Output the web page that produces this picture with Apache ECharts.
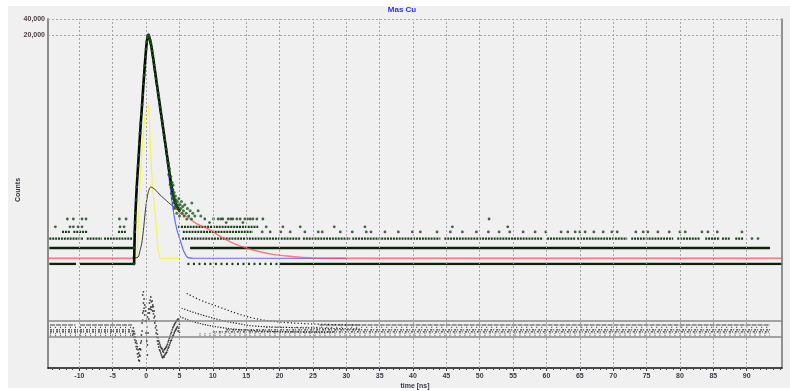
<!DOCTYPE html>
<html>
<head>
<meta charset="utf-8">
<script src="https://cdn.jsdelivr.net/npm/echarts@6/dist/echarts.min.js"></script>
<style>
  html, body { margin: 0; padding: 0; background: #ffffff; }
  #chart { width: 790px; height: 391px; }
</style>
</head>
<body>
<div id="chart"></div>
<script>
// ---- axis ranges and tick labels ----
const T_MIN = -14.7, T_MAX = 95.3;
const timeTicks = [-10, -5, 0, 5, 10, 15, 20, 25, 30, 35, 40, 45, 50, 55, 60, 65, 70, 75, 80, 85, 90];
const minorTimeTicks = [];
for (let t = -14; t <= 95; t++) minorTimeTicks.push(t);
const countTicks = [20000, 40000];
const COUNT_MIN = 1, COUNT_MAX = 40000;
const RES_MIN = -9.75, RES_MAX = 16.25;
const residLimits = [2, -2];

// ---- measured spectrum: main peak channels ----
const peakTime = [-1.8, -1.75, -1.7, -1.65, -1.6, -1.5, -1.4, -1.3, -1.2, -1.1, -1.0, -0.9, -0.8, -0.7, -0.6, -0.5,
  -0.4, -0.3, -0.2, -0.1, 0.0, 0.1, 0.2, 0.3, 0.35, 0.4, 0.5, 0.6, 0.7, 0.8, 0.9, 1.0, 1.1, 1.2, 1.3, 1.4, 1.5,
  1.6, 1.7, 1.8, 1.9, 2.0, 2.1, 2.2, 2.3, 2.4, 2.5, 2.6, 2.7, 2.8, 2.9, 3.0, 3.1, 3.2, 3.3, 3.4, 3.5, 3.6, 3.7,
  3.8, 3.9, 4.0, 4.1, 4.2, 4.3, 4.4, 4.5, 4.6, 4.8, 5.0];
const peakCount = [1, 2, 4, 6, 9, 16, 28, 45, 70, 110, 180, 285, 440, 650, 980, 1500,
  2400, 3500, 5300, 7800, 11000, 14800, 17800, 19800, 20200, 19900, 18200, 16200, 14000, 12000, 10000, 8300, 6800, 5500, 4500, 3700, 3000,
  2450, 2000, 1630, 1340, 1090, 890, 730, 590, 485, 395, 323, 263, 215, 176, 144, 117, 96, 78, 64, 52, 43, 35,
  29, 25, 21, 19, 17, 15, 14, 13, 12, 11, 10];

// scattered channels on the falling edge
const edgeTime = [3.3, 3.4, 3.5, 3.6, 3.7, 3.8, 3.9, 4.0, 4.1, 4.2, 4.3, 4.4, 4.5, 4.6, 4.7, 4.8, 4.9, 5.0, 5.1, 5.2,
  5.3, 5.4, 5.5, 5.6, 5.8, 6.0, 6.2, 6.4, 6.6, 6.85, 7.0, 7.3, 7.8, 8.2, 4.05, 3.95, 4.25, 5.7, 6.1, 6.8];
const edgeCount = [80, 48, 62, 31, 44, 21, 34, 25, 14, 22, 12, 19, 16, 9, 15, 13, 17, 8, 13, 11,
  15, 9, 12, 10, 13, 9, 11, 8, 10, 14, 9, 8, 10, 8, 30, 17, 11, 8, 7, 7];

// low-count levels: [counts, [[from, to] ns ...]]
const solidRows = [
  [1, [[-14.5, -10.5], [-9.9, -1.95], [20, 95.2]]],
  [2, [[-14.5, -1.95], [6.6, 93.5]]]
];
const dottedRows = [
  [3, [[-14.5, -9.45], [-8.9, -6.6], [-6.3, -2.1], [5.4, 23.1], [23.5, 30.6], [30.9, 44.1], [44.7, 59.5],
       [60.1, 64.3], [64.6, 72.1], [72.7, 79.0], [79.6, 83.0], [83.8, 86.0], [86.3, 87.5], [88.3, 89.5]]],
  [4, [[-12.6, -11.4], [-10.9, -8.7], [-4.2, -3.0], [5.5, 16.0]]],
  [5, [[4.8, 16.8]]]
];
const sparseRows = [
  [1, [[6.2, 20]]]
];
const looseTime = [90.8, 91.7,
  17.4, 18.6, 20.2, 21.6, 23.8, 25.8, 26.4, 29.1, 30.9, 33.0, 33.7, 35.8, 37.8, 39.9, 41.1, 43.6, 45.6, 47.4,
  49.5, 51.3, 52.9, 54.5, 56.5, 58.3, 59.9, 62.2, 63.2, 64.3, 65.0, 65.8, 67.1, 68.5, 69.8, 70.6, 73.4, 74.5,
  75.2, 76.7, 78.4, 80.0, 80.8, 83.3, 84.2, 85.6, 89.3,
  -13.6, -11.4, -10.9, -10.2, -9.6, -3.9, -3.3, 18.0, 20.5, 23.1, 28.2, 32.8, 45.9, 54.2,
  9.5, 12.0, 14.5,
  -11.8, -10.9, -9.6, -9.0, -4.0, -3.0, 8.8, 10.1, 10.8, 11.2, 11.5, 12.3, 12.7, 13.0, 13.6, 14.1, 14.8, 15.2,
  15.6, 16.0, 16.6, 17.5, 51.4];
const looseCount = [3, 3,
  4, 4, 4, 4, 4, 4, 4, 4, 4, 4, 4, 4, 4, 4, 4, 4, 4, 4,
  4, 4, 4, 4, 4, 4, 4, 4, 4, 4, 4, 4, 4, 4, 4, 4, 4, 4,
  4, 4, 4, 4, 4, 4, 4, 4, 4,
  5, 5, 5, 5, 5, 5, 5, 5, 5, 5, 5, 5, 5, 5,
  6, 6, 6,
  7, 7, 7, 7, 7, 7, 7, 7, 7, 7, 7, 7, 7, 7, 7, 7, 7, 7,
  7, 7, 7, 7, 7];

// ---- fitted model ----
const fitTotalTime = [-14.7, -1.9, -1.8, -1.75, -1.7, -1.6, -1.5, -1.4, -1.2, -1.0, -0.8, -0.6, -0.4, -0.2, 0.0, 0.2,
  0.35, 0.5, 0.7, 1.0, 1.5, 2.0, 2.5, 3.0, 3.5, 3.8, 4.1, 4.5, 5.0, 6.1, 7.5, 9.6, 11.3, 13.1, 15.0, 17.1, 19.0,
  21.1, 23.5, 25.6, 30, 95.3];
const fitTotal = [1.28, 1.28, 1.6, 2.4, 4, 9, 16, 28, 70, 180, 440, 980, 2400, 5300, 11000, 17800,
  20200, 18200, 14000, 8300, 3000, 1090, 395, 144, 52, 28, 18, 12.5, 9.3, 7.8, 5.8, 4.35, 3.2, 2.45, 2.0, 1.7, 1.52,
  1.41, 1.33, 1.29, 1.28, 1.28];
const fitShortTime = [-2.0, -1.8, -1.7, -1.6, -1.5, -1.4, -1.2, -1.0, -0.8, -0.6, -0.4, -0.2, 0.0, 0.2, 0.35, 0.5,
  0.7, 1.0, 1.5, 2.0, 2.5, 3.0, 3.3, 3.6, 3.85, 4.2, 4.6, 5.1, 5.6, 6.2, 7.0, 30];
const fitShort = [1.28, 1.5, 3.5, 8, 15, 26, 65, 170, 420, 950, 2300, 5100, 10500, 17000, 19500, 17600,
  13500, 8000, 2850, 1030, 370, 130, 62, 28, 16, 8, 4.5, 2.8, 1.8, 1.34, 1.29, 1.28];
const fitSourceTime = [-2.0, -1.4, -1.2, -1.0, -0.8, -0.6, -0.4, -0.2, 0.0, 0.2, 0.35, 0.5, 0.6, 0.8, 1.0, 1.2,
  1.35, 1.6, 1.8, 2.0, 2.2, 5.0];
const fitSource = [1.28, 1.3, 4, 18, 55, 140, 300, 560, 820, 950, 880, 450, 220, 70, 25, 14,
  9, 4, 2, 1.4, 1.28, 1.28];
const fitLongTime = [-2.0, -1.2, -0.9, -0.65, -0.4, -0.15, 0.1, 0.35, 0.7, 1.0, 1.5, 2.1, 3.1, 4.35, 4.6];
const fitLong = [1.28, 1.35, 1.8, 2.45, 4.3, 9, 16, 23, 28, 27, 24, 19.8, 15.3, 11.1, 10.5];

// ---- weighted residuals ----
const residPeakTime = [-2.0, -2.0, -1.9, -1.9, -1.8, -1.8, -1.7, -1.7, -1.6, -1.6, -1.5, -1.5, -1.4, -1.4,
  -1.3, -1.3, -1.2, -1.2, -1.1, -1.1, -1.0, -1.0, -1.0, -0.9, -0.9, -0.8, -0.8, -0.7, -0.7, -0.6, -0.6,
  -0.5, -0.5, -0.5, -0.4, -0.4, -0.4, -0.3, -0.3, -0.2, -0.2, -0.1, -0.1, 0.0, 0.0, 0.0, 0.1, 0.1,
  0.2, 0.2, 0.2, 0.3, 0.3, 0.4, 0.4, 0.5, 0.5, 0.6, 0.6, 0.7, 0.7, 0.8, 0.8, 0.9, 0.9, 1.0, 1.0,
  1.1, 1.1, 1.2, 1.2, 1.3, 1.3, 1.4, 1.4, 1.5, 1.5, 1.6, 1.6, 1.7, 1.7, 1.8, 1.8, 1.9, 1.9, 2.0, 2.0,
  2.1, 2.1, 2.2, 2.2, 2.3, 2.3, 2.4, 2.4, 2.5, 2.5, 2.6, 2.6, 2.7, 2.7, 2.8, 2.8, 2.9, 2.9, 3.0, 3.0,
  3.1, 3.1, 3.2, 3.2, 3.3, 3.3, 3.4, 3.4, 3.5, 3.5, 3.6, 3.6, 3.7, 3.7, 3.8, 3.8, 3.9, 3.9, 4.0, 4.0,
  4.1, 4.1, 4.2, 4.2, 4.3, 4.3, 4.4, 4.4, 4.5, 4.5, 4.6, 4.6, 4.7, 4.7, 4.8, 4.8, 4.9, 4.9, 5.0, 5.0];
const residPeak = [-0.5, -1.5, -1.1, 0.3, -2.0, -0.6, -2.7, -1.2, -3.4, -2.0, -4.4, -3.0, -5.0, -3.6,
  -6.2, -4.4, -7.0, -5.2, -7.8, -6.0, -8.0, -6.5, -5.0, -6.8, -5.0, -5.2, -3.5, -3.0, -1.5, -0.5, 1.5,
  2.2, 4.0, 8.5, 4.5, 6.5, 9.3, 5.2, 7.5, 3.5, 6.0, 2.0, 4.5, -1.0, 2.0, 5.5, -3.0, 0.5,
  -6.5, -4.0, 3.0, -1.0, 4.0, 2.5, 5.0, 4.0, 6.5, 5.0, 7.2, 5.5, 8.0, 4.8, 6.8, 5.5, 7.0, 4.5, 6.0,
  3.8, 5.6, 2.8, 4.5, 1.5, 3.2, 0.3, 2.0, -1.0, 0.8, -2.0, -0.3, -3.0, -1.3, -3.8, -2.2, -4.5, -3.0, -5.2, -3.5,
  -5.5, -4.0, -6.0, -4.5, -6.5, -4.8, -7.0, -5.0, -7.2, -5.5, -6.8, -5.8, -7.0, -5.2, -6.5, -5.0, -6.2, -4.8, -6.0, -4.5,
  -5.8, -4.2, -5.3, -3.8, -4.8, -3.2, -4.5, -2.8, -4.0, -2.3, -3.5, -1.8, -3.0, -1.2, -2.8, -0.8, -2.2, -0.2, -1.8, 0.3,
  -1.5, 0.6, -1.0, 1.0, -0.6, 1.3, -0.3, 1.6, 0.0, 1.9, 0.3, 2.1, 0.6, 2.3, -0.5, 2.5, 0.2, 2.0, -0.8, 1.2];

// residual bands from the discrete count levels
const residArcs = [
  [[6.1, 8.9], [8.1, 7.25], [11.1, 5.4], [13.6, 3.9], [16.1, 2.7], [18.6, 2.0], [21.1, 1.6], [26.1, 1.2], [32, 1.0]],
  [[5.35, 5.2], [7.6, 3.9], [11.1, 2.25], [13.6, 1.4], [16.1, 0.75], [21.1, 0.4], [26.1, 0.2], [32, 0.0]],
  [[5.1, 3.1], [7.1, 1.8], [11.1, 0.4], [16.1, -0.4], [21.1, -0.7], [28, -0.8]]
];
const residUpperRow = [1.0, [[-14.4, -10.6], [-9.9, -2.1], [26, 93.5]]];
const residDenseRows = [
  [-0.2, [[-14.4, -2.2], [12, 93.5]]],
  [-0.7, [[-14.4, -2.2], [10, 93.5]]]
];
const residSparseRows = [
  [0.4, [[-14.4, -2.2], [18, 93.5]]],
  [-1.2, [[-14.4, -2.2], [8, 93.5]]],
  [-1.7, [[-14.4, -2.2], [8, 93.5]]]
];

// ---- helpers ----
function pairs(xs, ys) { return xs.map((x, i) => [x, ys[i]]); }
function spans(rows) {
  const out = [];
  rows.forEach(([level, list]) => list.forEach(([a, b]) => {
    out.push([a, level], [b, level], [b, '-']);
  }));
  return out;
}

const DOT = '#163f16';
const GRID_DASH = [2, 2];
const FONT = 'Liberation Sans, Arial, sans-serif';

const chart = echarts.init(document.getElementById('chart'), null, { renderer: 'canvas' });

const gridLinesX = timeTicks.map(v => ({ xAxis: v }));

chart.setOption({
  animation: false,
  backgroundColor: '#f0f0f0',
  textStyle: { fontFamily: FONT },
  grid: [
    { left: 48, right: 8, top: 19, height: 245, containLabel: false, outerBoundsMode: 'none' },
    { left: 48, right: 8, top: 264, height: 104, containLabel: false, outerBoundsMode: 'none' }
  ],
  xAxis: [
    { gridIndex: 0, type: 'value', min: T_MIN, max: T_MAX,
      axisLine: { show: false }, axisTick: { show: false }, axisLabel: { show: false }, splitLine: { show: false } },
    { gridIndex: 1, type: 'value', min: T_MIN, max: T_MAX,
      axisLine: { show: true, onZero: false, lineStyle: { color: '#111', width: 1.5 } },
      axisTick: { show: true, customValues: minorTimeTicks, length: 2, lineStyle: { color: '#444', width: 1 } },
      axisLabel: { show: false }, splitLine: { show: false } },
    { gridIndex: 1, type: 'value', min: T_MIN, max: T_MAX, position: 'bottom',
      axisLine: { show: false, onZero: false },
      axisTick: { show: true, customValues: timeTicks, length: 3, lineStyle: { color: '#333', width: 1 } },
      axisLabel: { show: true, customValues: timeTicks, fontSize: 7, fontWeight: 'bold', color: '#3a3a48', margin: 5, fontFamily: FONT },
      splitLine: { show: false },
      name: 'time [ns]', nameLocation: 'middle', nameGap: 15,
      nameTextStyle: { fontSize: 7, fontWeight: 'bold', color: '#3a3a48', fontFamily: FONT } }
  ],
  yAxis: [
    { gridIndex: 0, type: 'log', logBase: 10, min: COUNT_MIN, max: COUNT_MAX,
      axisLine: { show: true, onZero: false, lineStyle: { color: '#8c8c8c', width: 2 } },
      axisTick: { show: false }, axisLabel: { show: false }, splitLine: { show: false } },
    { gridIndex: 0, type: 'log', logBase: 10, min: COUNT_MIN, max: COUNT_MAX, position: 'right',
      axisLine: { show: true, onZero: false, lineStyle: { color: '#707070', width: 1.5 } },
      axisTick: { show: false }, axisLabel: { show: false }, splitLine: { show: false } },
    { gridIndex: 1, type: 'value', min: RES_MIN, max: RES_MAX,
      axisLine: { show: true, onZero: false, lineStyle: { color: '#8c8c8c', width: 2 } },
      axisTick: { show: false }, axisLabel: { show: false }, splitLine: { show: false } },
    { gridIndex: 1, type: 'value', min: RES_MIN, max: RES_MAX, position: 'right',
      axisLine: { show: true, onZero: false, lineStyle: { color: '#707070', width: 1.5 } },
      axisTick: { show: false }, axisLabel: { show: false }, splitLine: { show: false } }
  ],
  graphic: [
    { type: 'rect', shape: { x: 0, y: 0, width: 8, height: 391 }, style: { fill: '#ffffff' }, silent: true },
    { type: 'rect', shape: { x: 0, y: 0, width: 790, height: 6 }, style: { fill: '#ffffff' }, silent: true },
    { type: 'rect', shape: { x: 0, y: 388, width: 790, height: 3 }, style: { fill: '#ffffff' }, silent: true },
    { type: 'text', x: 402, y: 10, style: { text: 'Mas Cu', fill: '#2f2fee', font: 'bold 8px ' + FONT, align: 'center', verticalAlign: 'middle' } },
    { type: 'text', x: 18, y: 190, rotation: Math.PI / 2, style: { text: 'Counts', fill: '#333340', font: 'bold 7px ' + FONT, align: 'center', verticalAlign: 'middle' } }
  ],
  series: [
    // reference grid of the spectrum panel and its count labels
    { type: 'line', xAxisIndex: 0, yAxisIndex: 0, data: [], silent: true,
      markLine: { silent: true, symbol: 'none', animation: false,
        lineStyle: { type: GRID_DASH, color: '#a6a6a6', width: 1 },
        label: { show: false },
        data: countTicks.map(v => ({ yAxis: v, label: { show: true, position: 'start', distance: 3,
          formatter: v.toLocaleString('en-US'), fontSize: 7, fontWeight: 'bold', color: '#4a3f3f', fontFamily: FONT } }))
          .concat(gridLinesX) } },
    // low-count levels
    { type: 'line', xAxisIndex: 0, yAxisIndex: 0, data: spans(solidRows), showSymbol: false, z: 3,
      lineStyle: { color: '#0e220e', width: 2.6, cap: 'butt' } },
    { type: 'line', xAxisIndex: 0, yAxisIndex: 0, data: spans(dottedRows), showSymbol: false, z: 3,
      lineStyle: { color: DOT, width: 2.3, type: [2, 0.9], cap: 'butt' } },
    { type: 'line', xAxisIndex: 0, yAxisIndex: 0, data: spans(sparseRows), showSymbol: false, z: 3,
      lineStyle: { color: DOT, width: 2.3, type: [2, 3.5], cap: 'butt' } },
    { type: 'scatter', xAxisIndex: 0, yAxisIndex: 0, data: pairs(looseTime, looseCount), symbolSize: 2.8, z: 3,
      clip: false, itemStyle: { color: DOT } },
    // fit components
    { type: 'line', xAxisIndex: 0, yAxisIndex: 0, data: pairs(fitSourceTime, fitSource), showSymbol: false, z: 4,
      smooth: 0.25, lineStyle: { color: '#f4f455', width: 1.2 } },
    { type: 'line', xAxisIndex: 0, yAxisIndex: 0, data: pairs(fitLongTime, fitLong), showSymbol: false, z: 4,
      smooth: 0.25, lineStyle: { color: '#3a3a3a', width: 1 } },
    { type: 'line', xAxisIndex: 0, yAxisIndex: 0, data: pairs(fitShortTime, fitShort), showSymbol: false, z: 4,
      smooth: 0.25, lineStyle: { color: '#6a6aff', width: 1.2 } },
    { type: 'line', xAxisIndex: 0, yAxisIndex: 0, data: pairs(fitTotalTime, fitTotal), showSymbol: false, z: 5,
      smooth: 0.25, lineStyle: { color: '#ff4848', width: 1.4, opacity: 0.7 } },
    // measured peak
    { type: 'scatter', xAxisIndex: 0, yAxisIndex: 0, data: pairs(edgeTime, edgeCount), symbolSize: 3, z: 6,
      clip: false, itemStyle: { color: '#1d5a1d' } },
    { type: 'line', xAxisIndex: 0, yAxisIndex: 0, data: pairs(peakTime, peakCount), z: 6,
      showSymbol: true, showAllSymbol: true, symbol: 'circle', symbolSize: 2.8,
      itemStyle: { color: '#1a4f1a' }, lineStyle: { color: '#050a05', width: 2.6 } },

    // residual panel: reference lines and vertical grid
    { type: 'line', xAxisIndex: 1, yAxisIndex: 2, data: [], silent: true,
      markLine: { silent: true, symbol: 'none', animation: false, label: { show: false },
        lineStyle: { type: GRID_DASH, color: '#a6a6a6', width: 1 },
        data: gridLinesX.concat(residLimits.map(v => ({ yAxis: v, lineStyle: { type: 'solid', color: '#8a8a8a', width: 1.5 } }))) } },
    { type: 'line', xAxisIndex: 1, yAxisIndex: 2, data: spans([residUpperRow]), showSymbol: false, z: 3,
      lineStyle: { color: '#7a7a7a', width: 1.3, type: [5, 1], cap: 'butt' } },
    { type: 'line', xAxisIndex: 1, yAxisIndex: 2, data: spans(residDenseRows), showSymbol: false, z: 3,
      lineStyle: { color: '#333', width: 1.3, type: [2, 1, 1, 2], cap: 'butt' } },
    { type: 'line', xAxisIndex: 1, yAxisIndex: 2, data: spans(residSparseRows), showSymbol: false, z: 3,
      lineStyle: { color: '#4a4a4a', width: 1.1, type: [1, 4], cap: 'butt' } },
    { type: 'line', xAxisIndex: 1, yAxisIndex: 2, data: residArcs[0], showSymbol: false, z: 3, smooth: 0.4,
      lineStyle: { color: '#1e1e1e', width: 1.2, type: [1.2, 2.2] } },
    { type: 'line', xAxisIndex: 1, yAxisIndex: 2, data: residArcs[1], showSymbol: false, z: 3, smooth: 0.4,
      lineStyle: { color: '#1e1e1e', width: 1.2, type: [1.2, 1.6] } },
    { type: 'line', xAxisIndex: 1, yAxisIndex: 2, data: residArcs[2], showSymbol: false, z: 3, smooth: 0.4,
      lineStyle: { color: '#1e1e1e', width: 1.2, type: [1.2, 1.4] } },
    { type: 'scatter', xAxisIndex: 1, yAxisIndex: 2, data: pairs(residPeakTime, residPeak), symbolSize: 1.8, z: 4,
      itemStyle: { color: '#1a1a1a' } }
  ]
});
</script>
</body>
</html>
